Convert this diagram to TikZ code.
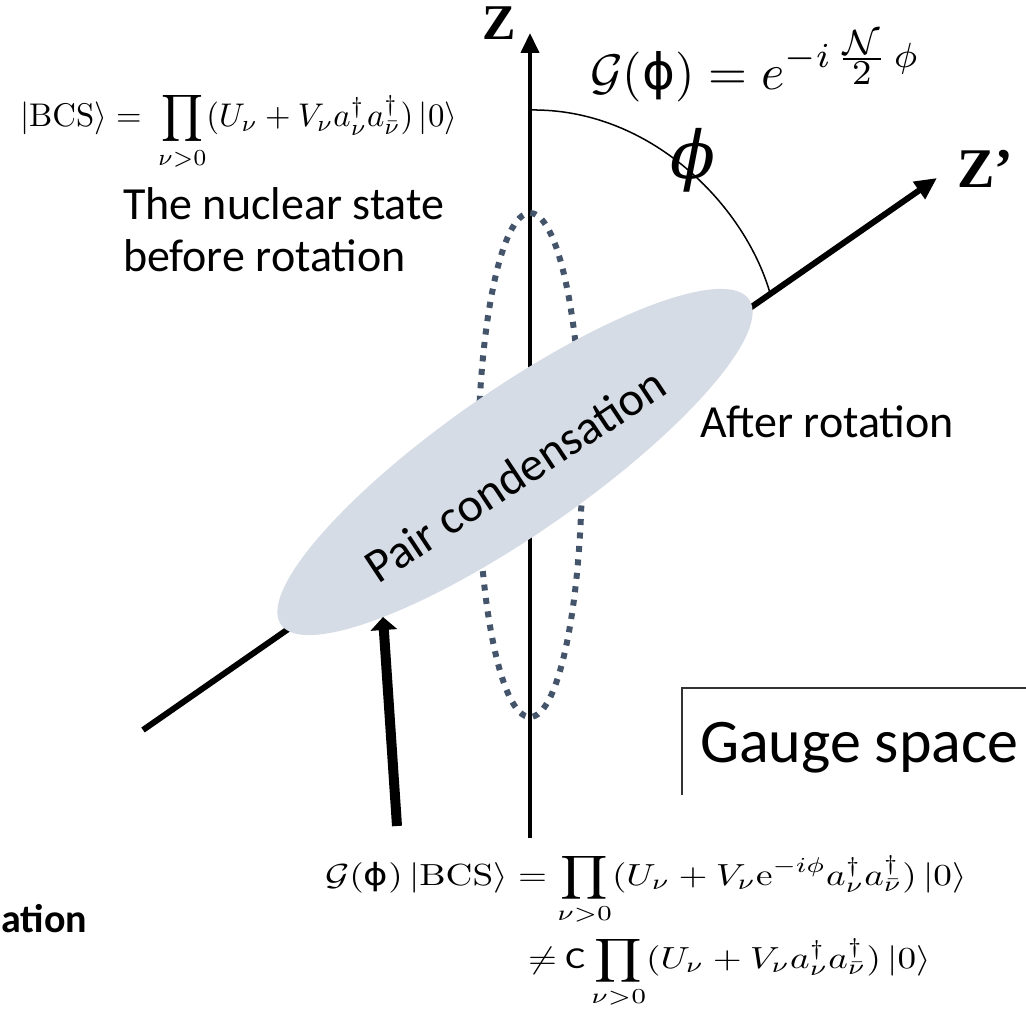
\documentclass[tikz,border=0pt]{standalone}
\usepackage[no-math]{fontspec}
\setmainfont{Carlito}
\newfontfamily\axisfont{Liberation Serif}
\newfontfamily\phiup{DejaVu Sans}
\newfontfamily\phiit{DejaVu Serif}
\usetikzlibrary{arrows.meta,calc,shapes.geometric}
\definecolor{condfill}{HTML}{D6DCE5}
\definecolor{ringcol}{HTML}{44546A}
\tikzset{
  axisline/.style={line width=#1, draw=black},
  txt/.style={inner sep=0pt, outer sep=0pt},
  ringstyle/.style={draw=ringcol, line width=6pt, dash pattern=on 6pt off 7.5pt},
  condstyle/.style={ellipse, fill=condfill, draw=none, minimum width=570pt, minimum height=144pt, inner sep=0pt, rotate=34.8},
}
\begin{document}
\begin{tikzpicture}[x=1pt,y=-1pt]
\useasboundingbox (0,0) rectangle (1026,1016);
% axis coordinates
\coordinate (zbot) at (530,838);
\coordinate (ztop) at (530,33);
\coordinate (zpl) at (143,730);
\coordinate (zpt) at (937,178);
\coordinate (arcs) at (530,110);
\coordinate (arce) at ($(zpl)!0.79!(zpt)$);
% axes
\draw[axisline=4pt, -{Triangle[width=18pt,length=20pt]}] (zbot) -- (ztop);
\draw[axisline=6pt, line cap=butt, -{Triangle[width=20pt,length=22pt]}] (zpl) -- (zpt);
% angle arc
\draw[line width=1.5pt] (arcs) .. controls (650,108) and (745,205) .. (arce);
% dotted ring
\draw[ringstyle] (530,465) ellipse [x radius=52, y radius=252];
% condensate
\node[condstyle] (cond) at (515,462) {};
\node[txt, rotate=33.5, font=\fontsize{48}{54}\selectfont] (condtxt) at (515,475) {Pair condensation};
% labels
\node[txt, anchor=base] (zlab) at (499,40) {\axisfont\bfseries\fontsize{50}{52}\selectfont Z};
\node[txt, anchor=base west] (zplab) at (957,188) {\axisfont\bfseries\fontsize{56}{60}\selectfont Z’};
\node[txt] (philab) at (693,160) {\phiit\itshape\fontsize{66}{70}\selectfont ϕ};
\node[txt, anchor=base west] (gdef) at (590,90) {\scalebox{5.0}{$\mathcal{G}(\mbox{\phiup ϕ}) = e^{-i\,\frac{\scriptstyle\mathcal{N}}{\scriptstyle 2}\,\phi}$}};
\node[txt, anchor=base west] (bcs) at (20,127) {\scalebox{3.28}{$\displaystyle |\mathrm{BCS}\rangle =\ \prod_{\nu>0}(U_\nu + V_\nu a^\dagger_\nu a^\dagger_{\bar\nu})\,|0\rangle$}};
\node[txt, anchor=north west, align=left, font=\fontsize{46}{52}\selectfont] (before) at (123,188) {The nuclear state\\before rotation};
\node[txt, anchor=base west, font=\fontsize{46}{52}\selectfont] (after) at (700,437) {After rotation};
% gauge space box
\draw[line width=1.5pt, draw=black!80] (682,795) -- (682,688) -- (1030,688);
\node[txt, anchor=base west, font=\fontsize{62}{66}\selectfont] (gspace) at (700,762) {Gauge space};
% thick arrow
\coordinate (arrtail) at (397,826);
\coordinate (arrtip) at (383,617);
\draw[line width=10pt, -{Triangle[width=26pt,length=13pt]}] (arrtail) -- (arrtip);
% bottom formulas
\node[txt, anchor=base west] (gbcs) at (325,885) {\scalebox{3.72}[3.05]{$\displaystyle \mathcal{G}(\mbox{\phiup ϕ})\,|\mathrm{BCS}\rangle = \prod_{\nu>0}(U_\nu + V_\nu \mathrm{e}^{-i\phi} a^\dagger_\nu a^\dagger_{\bar\nu})\,|0\rangle$}};
\node[txt, anchor=base west] (neq) at (528,968) {\scalebox{3.72}[3.05]{$\neq$\ C\,$\displaystyle \prod_{\nu>0}(U_\nu + V_\nu a^\dagger_\nu a^\dagger_{\bar\nu})\,|0\rangle$}};
\node[txt, anchor=base east, font=\bfseries\fontsize{40}{44}\selectfont] (ation) at (87,932) {ation};
\end{tikzpicture}
\end{document}
